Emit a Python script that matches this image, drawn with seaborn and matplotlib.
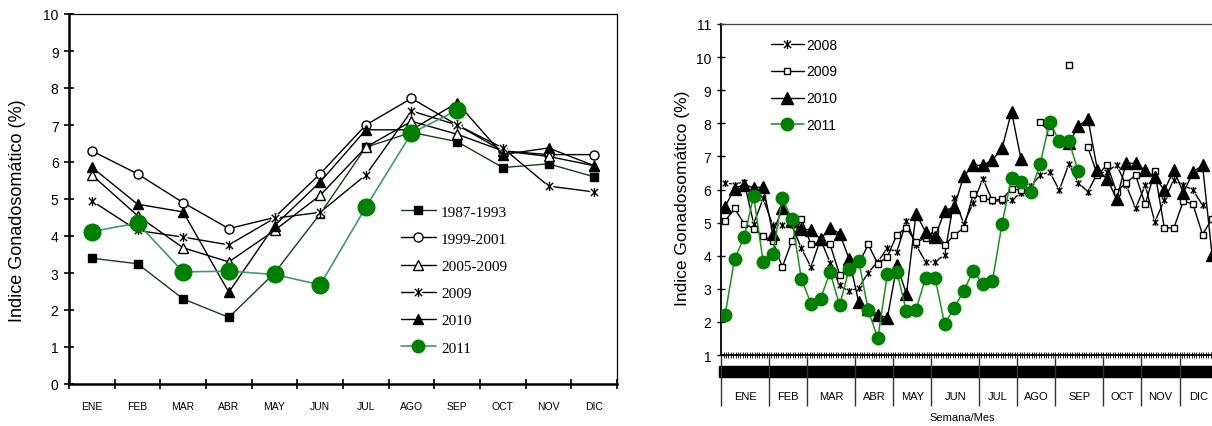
import numpy as np
import pandas as pd
import matplotlib
matplotlib.use("Agg")
import matplotlib.pyplot as plt
import matplotlib.transforms as mtransforms
from matplotlib.lines import Line2D
from matplotlib.path import Path
from matplotlib.patches import Rectangle
import seaborn as sns

nan = np.nan

# ---------------- left panel: monthly GSI by period ----------------
months = ["ENE", "FEB", "MAR", "ABR", "MAY", "JUN", "JUL", "AGO", "SEP", "OCT", "NOV", "DIC"]
igs_1987_1993 = [3.4, 3.25, 2.3, 1.8, 3.0, 4.6, 6.4, 6.8, 6.55, 5.85, 5.95, 5.6]
igs_1999_2001 = [6.3, 5.68, 4.9, 4.2, 4.5, 5.68, 7.0, 7.72, 7.0, 6.3, 6.2, 6.2]
igs_2005_2009 = [5.65, 4.55, 3.68, 3.3, 4.15, 5.1, 6.4, 7.1, 6.75, 6.3, 6.15, 5.9]
igs_2009 = [4.95, 4.15, 3.97, 3.76, 4.48, 4.64, 5.65, 7.38, 7.0, 6.38, 5.35, 5.19]
igs_2010 = [5.86, 4.86, 4.65, 2.48, 4.28, 5.46, 6.87, 6.87, 7.6, 6.2, 6.38, 5.9]
igs_2011 = [4.12, 4.35, 3.03, 3.05, 2.96, 2.68, 4.78, 6.78, 7.4, nan, nan, nan]

# ---------------- right panel: weekly GSI ----------------
weeks_per_month = [5, 4, 5, 4, 4, 5, 4, 4, 5, 4, 4, 4]
w2008 = [6.21, 6.15, 6.23, 4.97, 5.73, 4.92, 4.92, 4.92, 4.22, 3.66,
         4.5, 3.79, 3.1, 2.92, 3.03, 3.49, 3.82, 4.22, 4.12, 5.05,
         4.32, 3.82, 3.82, 4.02, 5.73, 4.97, 5.6, 6.33, 5.66, 5.65,
         5.68, 5.9, 6.1, 6.43, 6.53, 5.98, 6.77, 6.2, 5.93, 6.5,
         6.53, 6.75, 6.13, 5.43, 6.13, 5.02, 5.68, 6.3, 6.13, 5.98,
         5.53, nan]
w2009 = [5.04, 5.43, 4.97, 4.82, 4.6, 4.44, 3.66, 4.44, 5.12, 4.34,
         4.4, 4.34, 3.43, 3.5, 3.75, 4.34, 3.75, 3.97, 4.64, 4.84,
         4.4, 4.54, 4.77, 4.32, 4.62, 4.84, 5.87, 5.73, 5.68, 5.7,
         6.02, 5.98, nan, 8.03, 7.74, nan, 9.76, nan, 7.27, 6.43,
         6.75, 5.93, 6.21, 6.43, 5.55, 6.55, 4.84, 4.84, 5.66, 5.55,
         4.64, 5.12]
w2010 = [5.48, 6.03, 6.15, 6.05, 6.08, 4.67, 5.43, 5.05, 4.82, 4.77,
         4.5, 4.84, 4.67, 3.9, 2.59, 2.4, 2.22, 2.12, 3.71, 2.84,
         5.27, 4.72, 4.57, 5.35, 5.48, 6.4, 6.73, 6.73, 6.89, 7.24,
         8.35, 6.91, nan, nan, nan, nan, 7.4, 7.91, 8.14, 6.58,
         6.33, 5.71, 6.79, 6.79, 6.58, 6.38, 5.98, 6.58, 5.9, 6.53,
         6.73, 4.02]
w2011 = [2.2, 3.9, 4.55, 5.8, 3.8, 4.05, 5.75, 5.1, 3.3, 2.55,
         2.7, 3.5, 2.5, 3.6, 3.85, 2.35, 1.5, 3.45, 3.5, 2.32,
         2.37, 3.33, 3.33, 1.93, 2.43, 2.94, 3.55, 3.13, 3.24, 4.95,
         6.36, 6.23, 5.93, 6.77, 8.05, 7.46, 7.46, 6.55]

sns.set_style("ticks", {"axes.edgecolor": "black", "xtick.color": "black",
                        "ytick.color": "black", "text.color": "black",
                        "axes.labelcolor": "black"})
plt.rcParams["font.family"] = ["Liberation Sans", "DejaVu Sans"]

# Excel-like star marker: X with a vertical bar
STAR = Path([(-1, -1), (1, 1), (-1, 1), (1, -1), (0, -1.25), (0, 1.25)],
            [Path.MOVETO, Path.LINETO, Path.MOVETO, Path.LINETO, Path.MOVETO, Path.LINETO])


def draw(ax, x, y, line_color, z, lw=1.0, halo=None, **mk):
    df = pd.DataFrame({"x": x, "y": y})
    ok = df["y"].notna()
    run = (~ok).cumsum()
    for _, part in df[ok].groupby(run[ok]):
        if len(part) > 1:
            sns.lineplot(data=part, x="x", y="y", ax=ax, color=line_color, lw=lw,
                         estimator=None, sort=False, zorder=z)
    if halo:
        ax.plot(df["x"], df["y"], ls="none", marker=mk["marker"], ms=mk["ms"],
                mec="white", mew=halo, zorder=z + 0.1)
    ax.plot(df["x"], df["y"], ls="none", zorder=z + 0.2, **mk)


def handle(line_color, lw=1.0, halo=None, **mk):
    parts = [Line2D([], [], color=line_color, lw=lw)]
    if halo:
        parts.append(Line2D([], [], ls="none", marker=mk["marker"], ms=mk["ms"],
                            mec="white", mew=halo))
    parts.append(Line2D([], [], ls="none", **mk))
    return tuple(parts)


W, H = 1212, 427
fig = plt.figure(figsize=(W / 100, H / 100), dpi=100)

# ======================= left panel =======================
axL = fig.add_axes([69 / W, 1 - 385 / H, 548 / W, 370 / H])
xm = np.arange(len(months))

left_series = [
    ("1987-1993", igs_1987_1993, "#173f17", 1.0, None,
     dict(marker="s", ms=6, mfc="black", mec="black", mew=1)),
    ("1999-2001", igs_1999_2001, "black", 1.0, None,
     dict(marker="o", ms=6.5, mfc="white", mec="black", mew=1)),
    ("2005-2009", igs_2005_2009, "black", 1.0, None,
     dict(marker="^", ms=7, mfc="white", mec="black", mew=1)),
    ("2009", igs_2009, "black", 1.0, 3.5,
     dict(marker=STAR, ms=6.5, mfc="none", mec="black", mew=1)),
    ("2010", igs_2010, "black", 1.0, None,
     dict(marker="^", ms=7.5, mfc="black", mec="black", mew=1)),
    ("2011", igs_2011, "#3f9b6e", 1.2, None,
     dict(marker="o", ms=12, mfc="#008000", mec="#008000", mew=1)),
]
handlesL = []
for i, (lab, vals, lc, lw, halo, mk) in enumerate(left_series):
    draw(axL, xm, vals, lc, 2 + i, lw=lw, halo=halo, **mk)
    handlesL.append(handle(lc, lw=lw, halo=halo, **dict(mk, ms=min(mk["ms"], 9))))

axL.set_xlim(-0.5, 11.5)
axL.set_ylim(0, 10)
axL.set_xticks(np.arange(-0.5, 12, 1))
axL.set_xticklabels([])
axL.set_xticks(xm, minor=True)
axL.set_xticklabels(months, minor=True)
axL.tick_params(axis="x", which="major", direction="inout", length=7, width=1.2)
axL.tick_params(axis="x", which="minor", length=0, pad=12, labelsize=7.5)
axL.set_yticks(range(11))
axL.tick_params(axis="y", direction="inout", length=7, width=1.2, labelsize=10, pad=4)
axL.set_xlabel("")
axL.set_ylabel("")
for s in ["left", "bottom"]:
    axL.spines[s].set_linewidth(1.8)
for s in ["top", "right"]:
    axL.spines[s].set_linewidth(0.9)

axL.legend(handlesL, [s[0] for s in left_series], frameon=False, loc="upper left",
           bbox_to_anchor=(0.605, 0.484), borderpad=0, borderaxespad=0,
           handlelength=2.3, handletextpad=0.35, labelspacing=0.885,
           prop={"family": ["Liberation Serif"], "size": 11})

fig.text(18 / W, 1 - 211 / H, "Indice Gonadosomático (%)", rotation=90,
         ha="center", va="center", fontsize=13)

# ======================= right panel =======================
axR = fig.add_axes([721 / W, 1 - 356 / H, 497 / W, 331 / H])
wk = np.arange(len(w2008))

right_series = [
    ("2008", w2008, "black", 1.0, 3.0,
     dict(marker=STAR, ms=5, mfc="none", mec="black", mew=1)),
    ("2009", w2009, "black", 1.0, None,
     dict(marker="s", ms=5, mfc="white", mec="black", mew=1)),
    ("2010", w2010, "black", 1.0, None,
     dict(marker="^", ms=8, mfc="black", mec="black", mew=1)),
    ("2011", w2011, "#1f8f1f", 1.1, None,
     dict(marker="o", ms=9, mfc="#008000", mec="#008000", mew=1)),
]
handlesR = []
for i, (lab, vals, lc, lw, halo, mk) in enumerate(right_series):
    draw(axR, wk[:len(vals)], vals, lc, 2 + i, lw=lw, halo=halo, **mk)
    hmk = dict(mk)
    if mk["marker"] is STAR:
        hmk["ms"] = 6.5
    handlesR.append(handle(lc, lw=lw, halo=halo, **hmk))

edges = np.concatenate([[0], np.cumsum(weeks_per_month)]) - 0.4
axR.set_xlim(-0.42, 51.62)
axR.set_ylim(1, 11)
axR.set_xticks(np.arange(-0.4, 51.7, 0.25))
axR.set_xticklabels([])
axR.tick_params(axis="x", direction="inout", length=5, width=0.6)
axR.set_yticks(range(1, 12))
axR.tick_params(axis="y", direction="inout", length=6, width=1.0, labelsize=10, pad=4)
axR.set_xlabel("")
axR.set_ylabel("")
axR.spines["left"].set_linewidth(1.3)
axR.spines["bottom"].set_linewidth(1.3)
axR.spines["top"].set_linewidth(0.9)
axR.spines["top"].set_color("#444444")

trans = mtransforms.blended_transform_factory(axR.transData, axR.transAxes)
# dense band of unreadable week labels under the axis
axR.add_patch(Rectangle((-0.004, -0.065), 1.2, 0.032, transform=axR.transAxes,
                        color="black", clip_on=False, zorder=1))
axR.vlines(edges, -0.154, 0, transform=trans, colors="#333333", lw=1.0, clip_on=False)
for name, a, b in zip(months, edges[:-1], edges[1:]):
    axR.text((a + b) / 2, -0.124, name, transform=trans, ha="center", va="center",
             fontsize=8, clip_on=False)
fig.text(962 / W, 1 - 418 / H, "Semana/Mes", ha="center", va="center", fontsize=8)

axR.legend(handlesR, [s[0] for s in right_series], frameon=False, loc="upper left",
           bbox_to_anchor=(0.1, 0.959), borderpad=0, borderaxespad=0,
           handlelength=2.4, handletextpad=0.15, labelspacing=0.93,
           prop={"size": 10})

fig.text(683 / W, 1 - 198 / H, "Indice Gonadosomático (%)", rotation=90,
         ha="center", va="center", fontsize=12.5)

fig.savefig("out.png", dpi=100)
